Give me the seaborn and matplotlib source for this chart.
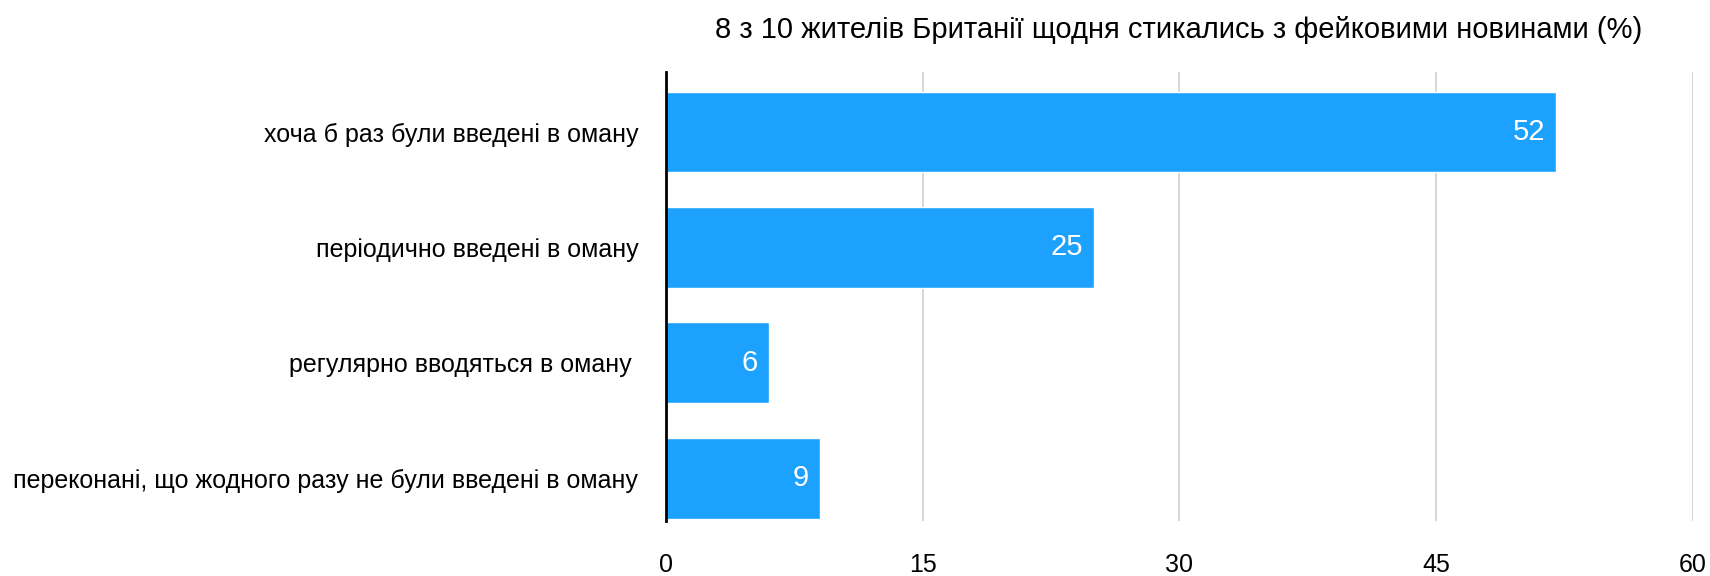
import matplotlib
matplotlib.use("Agg")
import matplotlib.pyplot as plt
import seaborn as sns
import pandas as pd

title = "8 з 10 жителів Британії щодня стикались з фейковими новинами (%)"
categories = [
    "хоча б раз були введені в оману",
    "періодично введені в оману",
    "регулярно вводяться в оману ",
    "переконані, що жодного разу не були введені в оману",
]
values = [52, 25, 6, 9]
xticks = [0, 15, 30, 45, 60]

sns.set_theme(style="white")
plt.rcParams["font.family"] = ["Liberation Sans", "DejaVu Sans"]

df = pd.DataFrame({"category": categories, "value": values})

fig = plt.figure(figsize=(17.10, 5.76), dpi=100)
ax = fig.add_axes([0.3895, 0.0955, 0.6005, 0.7795])

sns.barplot(data=df, x="value", y="category", orient="h", color="#1DA1FE",
            width=0.70, saturation=1, ax=ax, zorder=3)

for container in ax.containers:
    ax.bar_label(container, labels=[str(v) for v in values], padding=-8,
                 color="white", fontsize=21, zorder=4)
for t in ax.texts:
    t.set_horizontalalignment("right")

ax.set_xlim(0, 60)
ax.set_ylim(3.37, -0.52)
ax.set_xticks(xticks)
ax.set_xticklabels([str(x) for x in xticks])
ax.xaxis.grid(True, color="#cfcfcf", linewidth=1.2, zorder=0)
ax.yaxis.grid(False)
for s in ["top", "right", "bottom"]:
    ax.spines[s].set_visible(False)
ax.spines["left"].set_color("black")
ax.spines["left"].set_linewidth(2)
ax.spines["left"].set_zorder(5)
ax.tick_params(axis="x", length=0, pad=23, labelsize=18, labelcolor="black")
ax.tick_params(axis="y", length=0, pad=20, labelsize=18, labelcolor="black")
ax.set_xlabel("")
ax.set_ylabel("")

fig.text(0.689, 0.948, title, ha="center", va="center", fontsize=21, color="black")

fig.savefig("out.png", dpi=100, facecolor="white")
